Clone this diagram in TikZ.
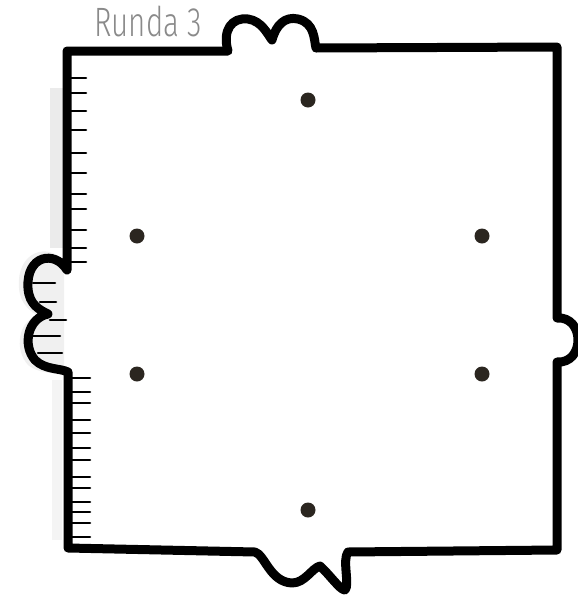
\documentclass[tikz,border=0pt]{standalone}
\usepackage{fontspec}
\newfontfamily\handfont{Fira Sans}[UprightFont=* Light]
\definecolor{dotc}{HTML}{2B2620}
\definecolor{titlec}{HTML}{8A8A8A}
\tikzset{
  frame/.style={line width=9pt, line join=round, line cap=round, black},
  tick/.style={line width=2.6pt, line cap=round, black},
  dot/.style={circle, fill=dotc, minimum size=15pt, inner sep=0pt},
  shade/.style={fill=gray!16, draw=none},
}
\begin{document}
\begin{tikzpicture}[x=1pt,y=-1pt]
\useasboundingbox (0,0) rectangle (578,600);
\clip (0,0) rectangle (578,600);
% soft shadow on the left
\fill[shade] (50,88) rectangle (64,248);
\fill[gray!9] (52,380) rectangle (62,540);
\fill[gray!12] (64,262) .. controls (50,242) and (16,250) .. (19,288) .. controls (20,305) and (32,312) .. (38,316) .. controls (18,320) and (14,350) .. (28,365) .. controls (40,375) and (58,372) .. (64,376) -- cycle;
% title
\node[text=titlec, font=\handfont\fontsize{41}{41}\selectfont, xscale=0.72, anchor=base] (title) at (148,36) {Runda 3};
% frame
\draw[frame] (68,548) -- (68,372)
  .. controls (60,368) and (45,370) .. (35,360)
  .. controls (22,345) and (28,318) .. (48,314)
  .. controls (40,310) and (29,305) .. (28,288)
  .. controls (26,255) and (55,250) .. (67,270)
  -- (67,51) -- (228,51)
  .. controls (222,30) and (232,17) .. (248,19)
  .. controls (262,21) and (268,35) .. (272,40)
  .. controls (276,25) and (285,16) .. (298,19)
  .. controls (315,23) and (314,40) .. (316,48)
  -- (557,47) -- (557,318)
  .. controls (585,316) and (585,364) .. (557,362)
  -- (557,550) -- (348,552)
  .. controls (342,560) and (350,585) .. (345,590)
  .. controls (340,590) and (330,575) .. (320,566)
  .. controls (312,568) and (305,583) .. (292,583)
  .. controls (270,582) and (265,555) .. (255,552)
  -- cycle;
% ticks, upper part
\foreach \y in {78,93,111,130,153,173,194,209,230,248,262}
  \draw[tick] (68,\y) -- (86,\y);
% ticks inside the left bump
\draw[tick] (33,283) -- (55,283);
\draw[tick] (40,302) -- (56,302);
\draw[tick] (50,320) -- (66,320);
\draw[tick] (33,336) -- (60,336);
\draw[tick] (38,353) -- (62,353);
% ticks, lower part
\foreach \y in {378,392,403,420,433,448,460,477,488,502,512,523,537}
  \draw[tick] (68,\y) -- (90,\y);
% dots
\node[dot] (d1) at (308,100) {};
\node[dot] (d2) at (137,236) {};
\node[dot] (d3) at (482,236) {};
\node[dot] (d4) at (137,374) {};
\node[dot] (d5) at (482,374) {};
\node[dot] (d6) at (308,510) {};
\end{tikzpicture}
\end{document}
